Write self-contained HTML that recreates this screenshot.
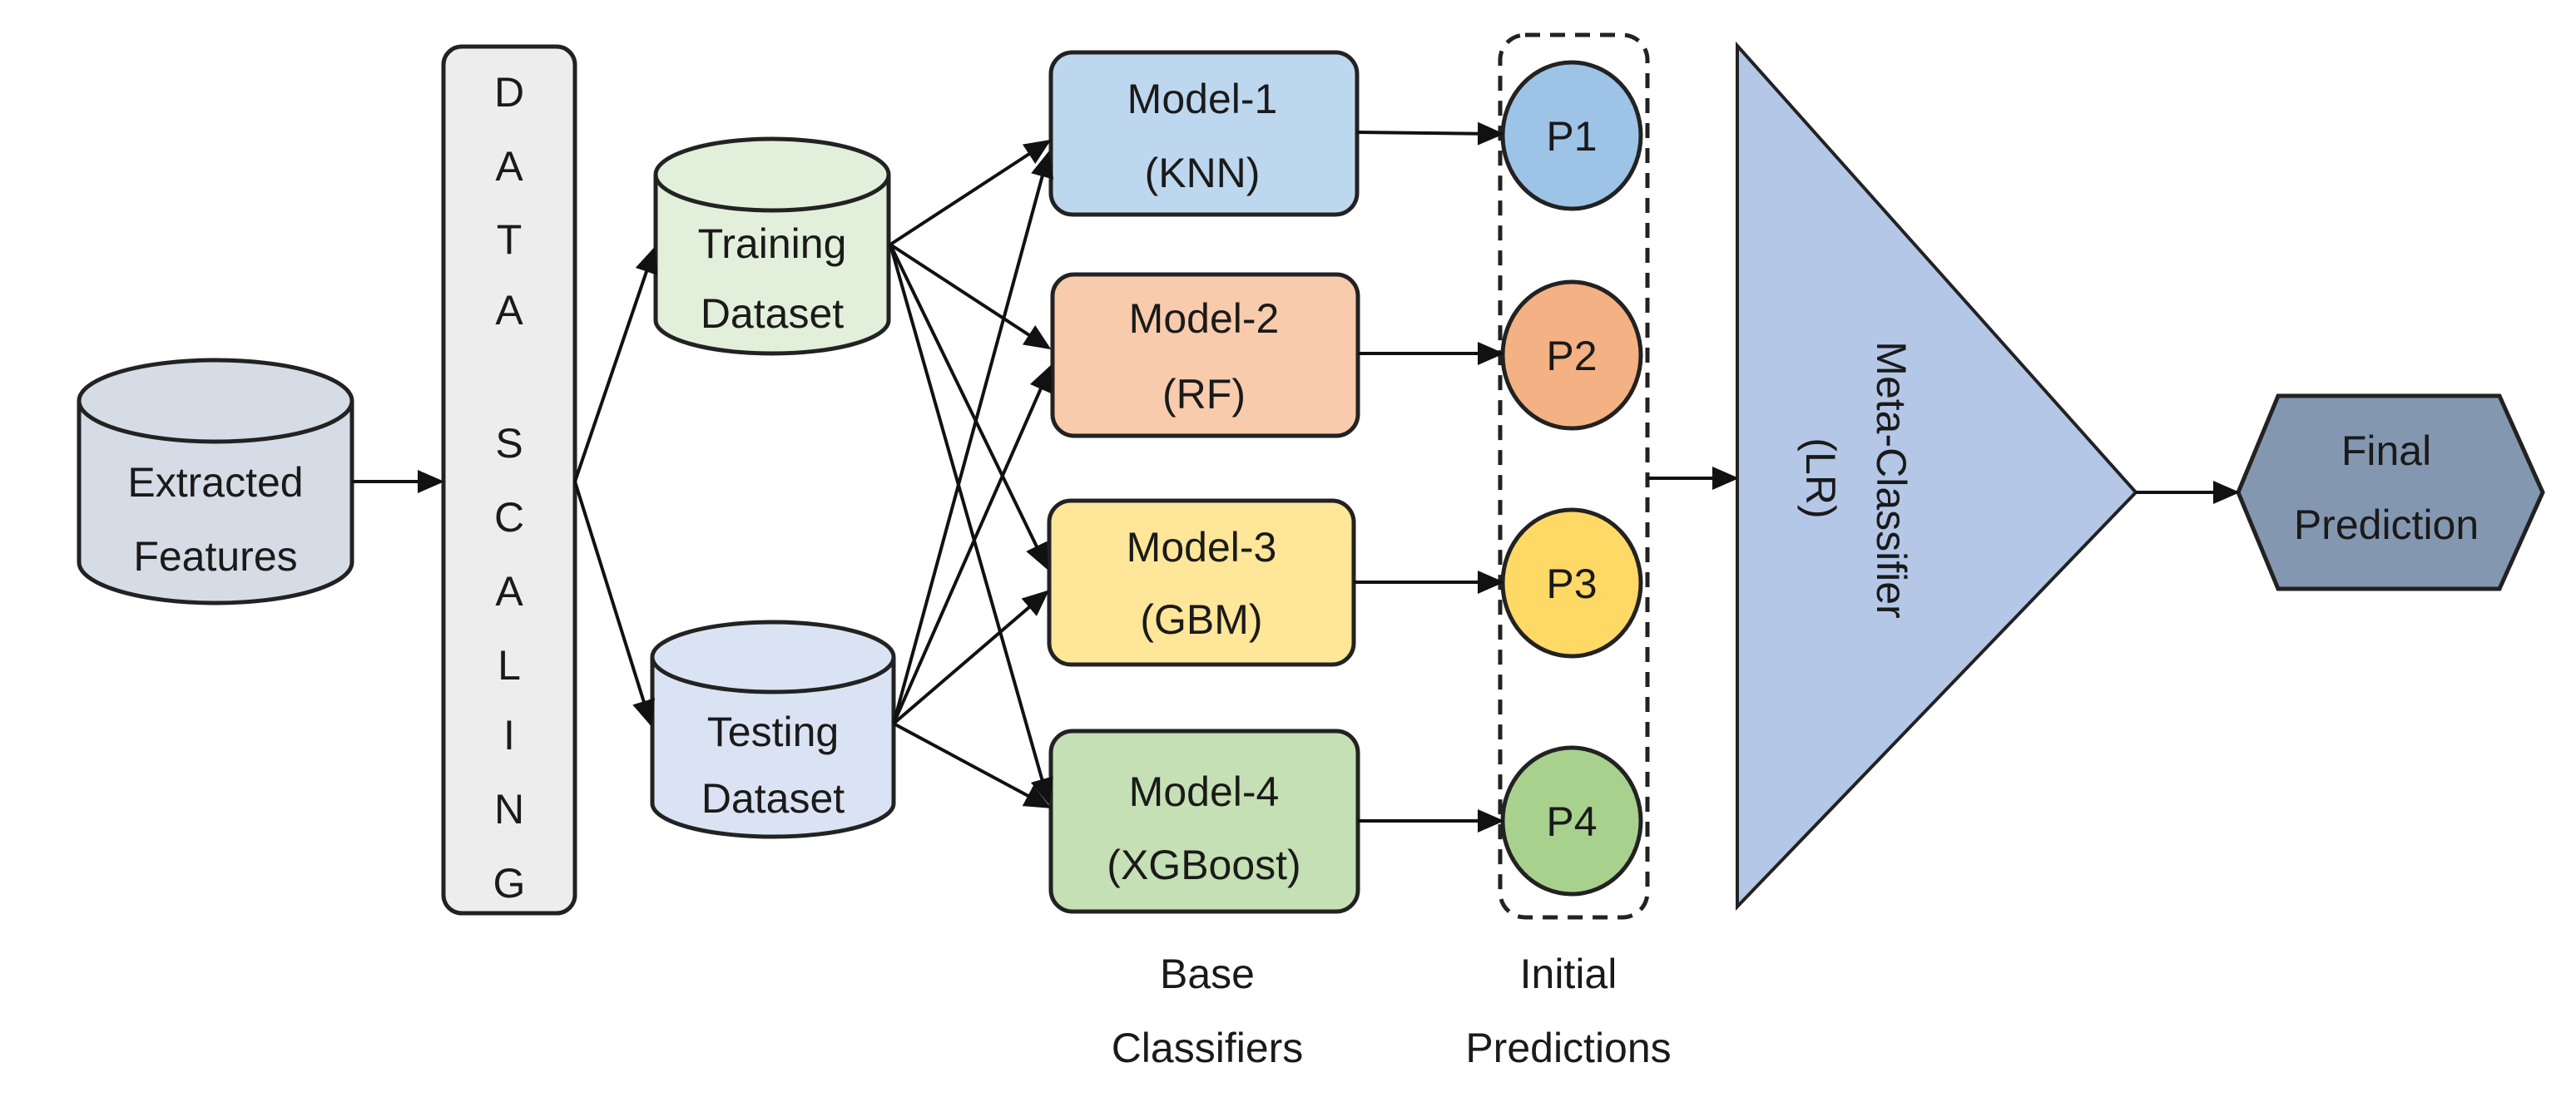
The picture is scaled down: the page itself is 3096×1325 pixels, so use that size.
<!DOCTYPE html>
<html><head><meta charset="utf-8"><style>
html,body{margin:0;padding:0;background:#fff;}
svg{display:block;}
text{font-family:"Liberation Sans",sans-serif;fill:#1a1a1a;}
</style></head><body>
<svg width="3096" height="1325" viewBox="0 0 3096 1325" xmlns="http://www.w3.org/2000/svg">
<defs>
<marker id="ah" markerWidth="8" markerHeight="8" refX="7" refY="4" orient="auto" markerUnits="strokeWidth">
<path d="M0,0.5 L8,4 L0,7.5 z" fill="#111"/></marker>
</defs>
<g stroke="#222" stroke-width="5">
<!-- Extracted features cylinder -->
<path d="M95,482 L95,676 A164,49 0 0 0 423,676 L423,482" fill="#d6dce5"/>
<ellipse cx="259" cy="482" rx="164" ry="49" fill="#d6dce5"/>
<!-- scaling box -->
<rect x="533" y="56" width="158" height="1042" rx="22" fill="#ededed"/>
<!-- training -->
<path d="M788,210 L788,385 A140,40 0 0 0 1068,385 L1068,210" fill="#e2efda"/>
<ellipse cx="928" cy="210" rx="140" ry="43" fill="#e2efda"/>
<!-- testing -->
<path d="M784,790 L784,966 A145,40 0 0 0 1074,966 L1074,790" fill="#dae3f3"/>
<ellipse cx="929" cy="790" rx="145" ry="42" fill="#dae3f3"/>
<!-- models -->
<rect x="1263" y="63" width="368" height="195" rx="26" fill="#bdd7ee"/>
<rect x="1265" y="330" width="367" height="194" rx="26" fill="#f8cbad"/>
<rect x="1261" y="602" width="366" height="197" rx="26" fill="#ffe699"/>
<rect x="1263" y="879" width="369" height="217" rx="26" fill="#c5e0b4"/>
<!-- dashed -->
<rect x="1803" y="42" width="177" height="1061" rx="30" fill="none" stroke-dasharray="18,12"/>
<ellipse cx="1889" cy="163" rx="83" ry="88" fill="#9dc3e6"/>
<ellipse cx="1889" cy="427" rx="83" ry="88" fill="#f4b183"/>
<ellipse cx="1889" cy="701" rx="83" ry="88" fill="#ffd966"/>
<ellipse cx="1889" cy="987" rx="83" ry="88" fill="#a9d18e"/>
<!-- triangle -->
<polygon points="2088,55 2567,592 2088,1090" fill="#b4c7e7" stroke-width="4"/>
<!-- hexagon -->
<polygon points="2690,592 2738,476 3004,476 3056,592 3004,708 2738,708" fill="#8497b0"/>
</g>
<g stroke="#111" stroke-width="4" fill="none" marker-end="url(#ah)">
<line x1="423" y1="579" x2="530" y2="579"/>
<line x1="691" y1="579" x2="786" y2="300"/>
<line x1="691" y1="579" x2="782" y2="870"/>
<line x1="1070" y1="294" x2="1260" y2="170"/>
<line x1="1070" y1="294" x2="1260" y2="418"/>
<line x1="1070" y1="294" x2="1258" y2="682"/>
<line x1="1070" y1="294" x2="1260" y2="964"/>
<line x1="1074" y1="870" x2="1260" y2="185"/>
<line x1="1074" y1="870" x2="1262" y2="442"/>
<line x1="1074" y1="870" x2="1258" y2="712"/>
<line x1="1074" y1="870" x2="1260" y2="970"/>
<line x1="1631" y1="159" x2="1804" y2="161"/>
<line x1="1632" y1="425" x2="1804" y2="425"/>
<line x1="1627" y1="700" x2="1804" y2="700"/>
<line x1="1632" y1="987" x2="1804" y2="987"/>
<line x1="1980" y1="575" x2="2086" y2="575"/>
<line x1="2567" y1="592" x2="2688" y2="592"/>
</g>
<g font-size="50" text-anchor="middle">
<text x="259" y="597">Extracted</text>
<text x="259" y="686">Features</text>
<text x="612" y="128">D</text>
<text x="612" y="217">A</text>
<text x="612" y="305">T</text>
<text x="612" y="390">A</text>
<text x="612" y="550">S</text>
<text x="612" y="639">C</text>
<text x="612" y="728">A</text>
<text x="612" y="817">L</text>
<text x="612" y="901">I</text>
<text x="612" y="990">N</text>
<text x="612" y="1079">G</text>
<text x="928" y="310">Training</text>
<text x="928" y="394">Dataset</text>
<text x="929" y="897">Testing</text>
<text x="929" y="977">Dataset</text>
<text x="1445" y="136">Model-1</text>
<text x="1445" y="225">(KNN)</text>
<text x="1447" y="400">Model-2</text>
<text x="1447" y="491">(RF)</text>
<text x="1444" y="675">Model-3</text>
<text x="1444" y="762">(GBM)</text>
<text x="1447" y="969">Model-4</text>
<text x="1447" y="1057">(XGBoost)</text>
<text x="1889" y="181">P1</text>
<text x="1889" y="445">P2</text>
<text x="1889" y="719">P3</text>
<text x="1889" y="1005">P4</text>
<text x="1451" y="1188">Base</text>
<text x="1451" y="1277">Classifiers</text>
<text x="1885" y="1188">Initial</text>
<text x="1885" y="1277">Predictions</text>
<text x="2868" y="559">Final</text>
<text x="2868" y="648">Prediction</text>
<text transform="translate(2256,577) rotate(90)">Meta-Classifier</text>
<text transform="translate(2171,575) rotate(90)">(LR)</text>
</g>
</svg>
</body></html>
